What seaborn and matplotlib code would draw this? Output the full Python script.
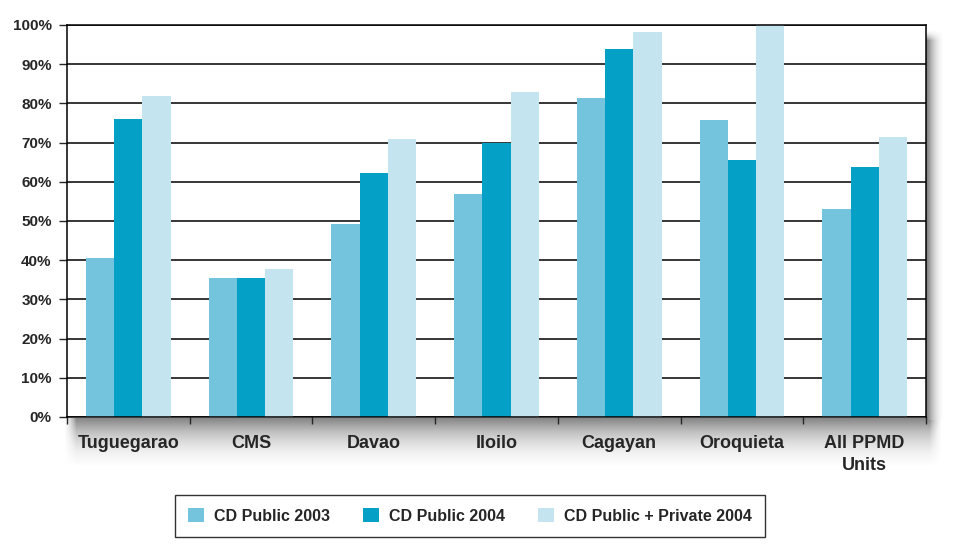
#!/usr/bin/env python3
"""CD coverage by PPMD unit, 2003 vs 2004."""

import matplotlib.pyplot as plt
import matplotlib.ticker as ticker
import numpy as np
import pandas as pd
import seaborn as sns
from matplotlib.patches import Patch

UNITS = ["Tuguegarao", "CMS", "Davao", "Iloilo", "Cagayan", "Oroquieta", "All PPMD\nUnits"]
SERIES = ["CD Public 2003", "CD Public 2004", "CD Public + Private 2004"]

PUBLIC_2003 = [40.5, 35.4, 49.2, 56.9, 81.4, 75.8, 53.1]
PUBLIC_2004 = [76.0, 35.4, 62.2, 69.9, 93.9, 65.6, 63.8]
PUBLIC_PRIVATE_2004 = [81.9, 37.8, 70.8, 82.9, 98.2, 100.0, 71.4]

COLORS = ["#74C4DE", "#04A0C6", "#C4E4F0"]


def add_shadow(fig):
    """Soft grey drop shadow under and to the right of the plot frame."""
    # bottom band
    sh_b = fig.add_axes([64 / 968, 1 - 468 / 550, (942 - 64) / 968, 50 / 550], zorder=-5)
    v = np.linspace(1.0, 0.0, 50) ** 1.3 * 0.55
    h = np.clip(np.linspace(0, 878 / 12, 878), 0, 1)
    h = np.minimum(h, h[::-1])
    sh_b.imshow(v[:, None] * h[None, :], cmap="Greys", vmin=0, vmax=1,
                aspect="auto", interpolation="bilinear")
    sh_b.axis("off")
    # right band
    sh_r = fig.add_axes([926 / 968, 1 - 420 / 550, 18 / 968, (420 - 30) / 550], zorder=-5)
    hr = np.linspace(1.0, 0.0, 18) ** 1.2 * 0.6
    vr = np.clip(np.linspace(0, 390 / 10, 390), 0, 1)
    sh_r.imshow(vr[:, None] * hr[None, :], cmap="Greys", vmin=0, vmax=1,
                aspect="auto", interpolation="bilinear")
    sh_r.axis("off")


def main():
    df = pd.DataFrame({
        "unit": UNITS * 3,
        "series": [s for s in SERIES for _ in UNITS],
        "value": PUBLIC_2003 + PUBLIC_2004 + PUBLIC_PRIVATE_2004,
    })

    sns.set_style("white")
    plt.rcParams["font.family"] = ["Liberation Sans", "DejaVu Sans"]

    fig = plt.figure(figsize=(9.68, 5.5), dpi=100)
    add_shadow(fig)
    ax = fig.add_axes([67 / 968, 1 - 417 / 550, (926 - 67) / 968, (417 - 25) / 550])
    ax.set_zorder(1)

    sns.barplot(
        data=df, x="unit", y="value", hue="series",
        palette=COLORS, width=0.69, saturation=1,
        edgecolor="none", linewidth=0, legend=False, ax=ax,
    )

    ax.set_ylim(0, 100)
    ax.set_xlim(-0.5, len(UNITS) - 0.5)
    ax.yaxis.set_major_locator(ticker.MultipleLocator(10))
    ax.yaxis.set_major_formatter(ticker.FuncFormatter(lambda v, _: f"{v:.0f}%"))
    ax.yaxis.grid(True, color="black", linewidth=1.1)
    ax.set_axisbelow(True)
    ax.set_xlabel("")
    ax.set_ylabel("")

    for s in ax.spines.values():
        s.set_visible(True)
        s.set_color("black")
        s.set_linewidth(1.1)

    ax.tick_params(axis="y", which="major", left=True, length=6, width=1,
                   direction="out", pad=5, labelsize=11)
    for lbl in ax.get_yticklabels():
        lbl.set_fontweight("bold")
    ax.tick_params(axis="x", which="major", length=0, pad=13, labelsize=13)
    ax.xaxis.set_minor_locator(ticker.FixedLocator(np.arange(-0.5, len(UNITS), 1.0)))
    ax.tick_params(axis="x", which="minor", bottom=True, length=5, width=1, direction="out")
    for lbl in ax.get_xticklabels():
        lbl.set_fontweight("bold")
        lbl.set_linespacing(1.35)

    handles = [Patch(facecolor=c, edgecolor="none") for c in COLORS]
    leg = fig.legend(
        handles, SERIES, loc="center", bbox_to_anchor=(0.4855, 1 - 516 / 550),
        ncol=3, frameon=True, fancybox=False, edgecolor="black",
        prop={"weight": "bold", "size": 11.5}, handlelength=1.0, handleheight=1.0,
        handletextpad=0.6, columnspacing=2.1, borderpad=0.8, borderaxespad=0,
    )
    leg.get_frame().set_linewidth(1.0)

    fig.savefig("out.png", dpi=100)
    plt.close(fig)


if __name__ == "__main__":
    main()
